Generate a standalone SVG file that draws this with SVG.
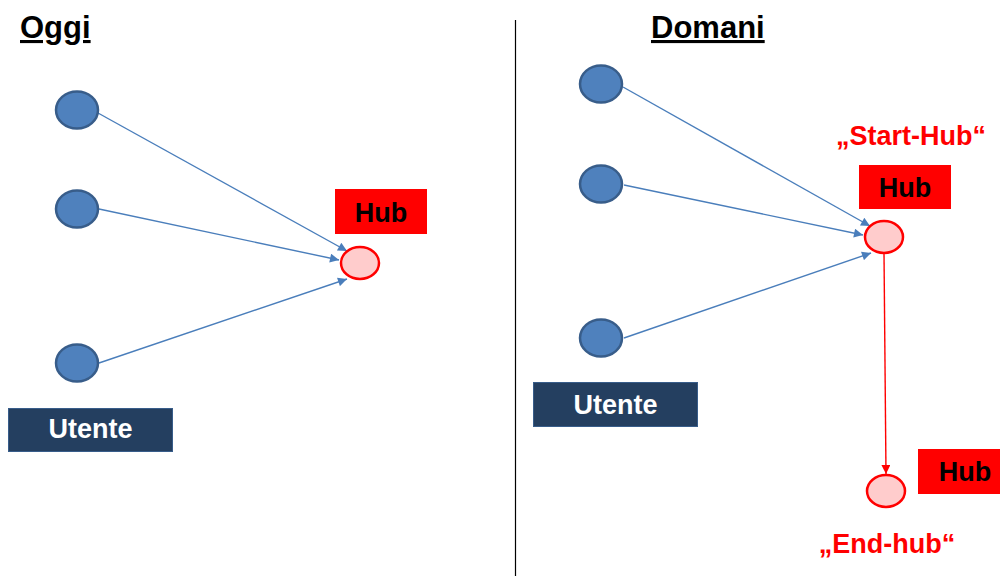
<svg xmlns="http://www.w3.org/2000/svg" width="1000" height="576" viewBox="0 0 1000 576">
  <style>
    .title { font-family: "Liberation Sans", Arial, sans-serif; font-weight: bold; font-size: 31px; fill: #000; text-decoration: underline; }
    .lbl { font-family: "Liberation Sans", Arial, sans-serif; font-weight: bold; font-size: 27px; }
    .user { fill: #4F81BD; stroke: #385D8A; stroke-width: 2.5; }
    .hub { fill: #FFCCCC; stroke: #FF0000; stroke-width: 2.5; }
    .tag { fill: #FF0000; }
    .ubox { fill: #243F60; stroke: #385D8A; stroke-width: 1; }
    .edge { stroke: #4A7EBB; stroke-width: 1.4; fill: none; }
    .edge-red { stroke: #FF0000; stroke-width: 1.4; fill: none; }
  </style>
  <defs>
    <marker id="arrowBlue" viewBox="0 0 10 10" refX="10" refY="5" markerWidth="11" markerHeight="9" markerUnits="userSpaceOnUse" orient="auto">
      <path d="M0,0 L10,5 L0,10 z" fill="#4A7EBB"/>
    </marker>
    <marker id="arrowRed" viewBox="0 0 10 10" refX="10" refY="5" markerWidth="11" markerHeight="9" markerUnits="userSpaceOnUse" orient="auto">
      <path d="M0,0 L10,5 L0,10 z" fill="#FF0000"/>
    </marker>
  </defs>

  <rect width="1000" height="576" fill="#FFFFFF"/>

  <!-- divider between the two scenarios -->
  <line x1="515.5" y1="20" x2="515.5" y2="576" stroke="#000" stroke-width="1.2"/>

  <!-- headings -->
  <text class="title" x="20" y="38">Oggi</text>
  <text class="title" x="651" y="38">Domani</text>

  <!-- connectors -->
  <g id="connectors">
    <line class="edge" x1="98" y1="113" x2="347" y2="251" marker-end="url(#arrowBlue)"/>
    <line class="edge" x1="99" y1="209" x2="339" y2="260" marker-end="url(#arrowBlue)"/>
    <line class="edge" x1="99" y1="363" x2="347" y2="279" marker-end="url(#arrowBlue)"/>

    <line class="edge" x1="623" y1="87" x2="870" y2="226" marker-end="url(#arrowBlue)"/>
    <line class="edge" x1="624" y1="185" x2="863" y2="235" marker-end="url(#arrowBlue)"/>
    <line class="edge" x1="624" y1="338" x2="871" y2="253" marker-end="url(#arrowBlue)"/>

    <line class="edge-red" x1="884" y1="253" x2="886" y2="474" marker-end="url(#arrowRed)"/>
  </g>

  <!-- left: today -->
  <g id="user-l1"><ellipse class="user" cx="77" cy="110" rx="21" ry="18.5"/></g>
  <g id="user-l2"><ellipse class="user" cx="77" cy="209" rx="21" ry="18.5"/></g>
  <g id="user-l3"><ellipse class="user" cx="77" cy="363" rx="21" ry="18.5"/></g>
  <g id="hub-l">
    <rect class="tag" x="335" y="189" width="92" height="45"/>
    <text class="lbl" x="381" y="222" text-anchor="middle" fill="#000">Hub</text>
    <ellipse class="hub" cx="360" cy="263" rx="19" ry="16"/>
  </g>
  <g id="utente-l">
    <rect class="ubox" x="8.5" y="408.5" width="164" height="43"/>
    <text class="lbl" x="90.5" y="438" text-anchor="middle" fill="#FFFFFF">Utente</text>
  </g>

  <!-- right: tomorrow -->
  <g id="user-r1"><ellipse class="user" cx="601" cy="84" rx="21" ry="18.5"/></g>
  <g id="user-r2"><ellipse class="user" cx="601" cy="184" rx="21" ry="18.5"/></g>
  <g id="user-r3"><ellipse class="user" cx="601" cy="338" rx="21" ry="18.5"/></g>
  <g id="hub-start">
    <text class="lbl" x="911" y="145" text-anchor="middle" fill="#FF0000">„Start-Hub“</text>
    <rect class="tag" x="859" y="165" width="92" height="44"/>
    <text class="lbl" x="905" y="197" text-anchor="middle" fill="#000">Hub</text>
    <ellipse class="hub" cx="884" cy="237" rx="19" ry="16"/>
  </g>
  <g id="hub-end">
    <rect class="tag" x="918" y="449" width="82" height="45"/>
    <text class="lbl" x="965" y="481" text-anchor="middle" fill="#000">Hub</text>
    <ellipse class="hub" cx="886" cy="491" rx="19" ry="16"/>
    <text class="lbl" x="887" y="553" text-anchor="middle" fill="#FF0000">„End-hub“</text>
  </g>
  <g id="utente-r">
    <rect class="ubox" x="533.5" y="382.5" width="164" height="44"/>
    <text class="lbl" x="615.5" y="414" text-anchor="middle" fill="#FFFFFF">Utente</text>
  </g>
</svg>
